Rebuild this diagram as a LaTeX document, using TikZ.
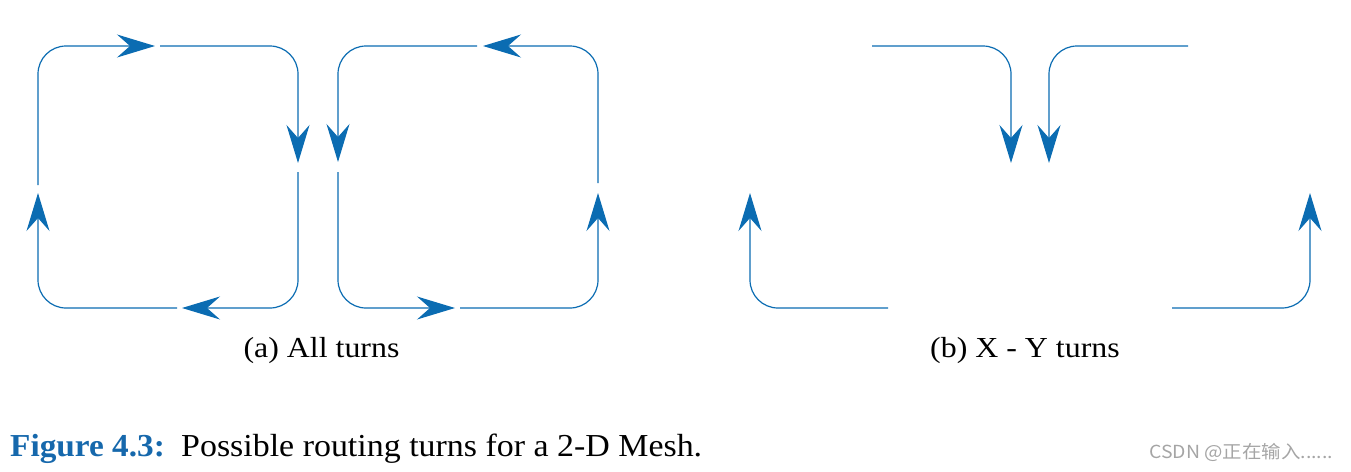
\documentclass[tikz,border=0pt]{standalone}
\usepackage{fontspec}
\setmainfont{Liberation Serif}
\newfontfamily\cjkfont{Noto Sans CJK SC}
\usetikzlibrary{arrows.meta}
\definecolor{routeblue}{RGB}{11,108,178}
\definecolor{figblue}{RGB}{22,104,172}
\definecolor{wmgray}{RGB}{165,165,165}
\tikzset{
  turn/.style={draw=routeblue, line width=1.2pt, rounded corners=28pt,
    -{Stealth[length=38pt,width=23pt,inset=13pt,fill=routeblue]}},
  sublabel/.style={inner sep=0pt, anchor=base, font=\fontsize{29}{34}\selectfont, xscale=1.1},
}
\begin{document}
\begin{tikzpicture}[x=1pt,y=-1pt]
\useasboundingbox (0,0) rectangle (1351,471);
% panel (a) left square, clockwise
\coordinate (a1s1) at (38,185);  \coordinate (a1e1) at (155,46);
\coordinate (a1s2) at (160,46);  \coordinate (a1e2) at (298,163);
\coordinate (a1s3) at (298,172); \coordinate (a1e3) at (182,308);
\coordinate (a1s4) at (177,308); \coordinate (a1e4) at (38,193);
\draw[turn] (a1s1) |- (a1e1);
\draw[turn] (a1s2) -| (a1e2);
\draw[turn] (a1s3) |- (a1e3);
\draw[turn] (a1s4) -| (a1e4);
% panel (a) right square, counter-clockwise
\coordinate (a2s1) at (598,183); \coordinate (a2e1) at (483,46);
\coordinate (a2s2) at (477,46);  \coordinate (a2e2) at (338,162);
\coordinate (a2s3) at (338,172); \coordinate (a2e3) at (455,308);
\coordinate (a2s4) at (460,308); \coordinate (a2e4) at (598,193);
\draw[turn] (a2s1) |- (a2e1);
\draw[turn] (a2s2) -| (a2e2);
\draw[turn] (a2s3) |- (a2e3);
\draw[turn] (a2s4) -| (a2e4);
% panel (b)
\coordinate (bs1) at (872,46);   \coordinate (be1) at (1011,163);
\coordinate (bs2) at (1188,46);  \coordinate (be2) at (1049,163);
\coordinate (bs3) at (888,308);  \coordinate (be3) at (750,193);
\coordinate (bs4) at (1172,308); \coordinate (be4) at (1310,193);
\draw[turn] (bs1) -| (be1);
\draw[turn] (bs2) -| (be2);
\draw[turn] (bs3) -| (be3);
\draw[turn] (bs4) -| (be4);
% labels
\node[sublabel] (la) at (321.5,357) {(a) All turns};
\node[sublabel] (lb) at (1025,357) {(b) X - Y turns};
% caption
\node[inner sep=0pt, anchor=base west, font=\fontsize{32}{38}\selectfont\bfseries, text=figblue, xscale=1.04] (fig) at (10,456) {Figure 4.3:};
\node[inner sep=0pt, anchor=base west, font=\fontsize{32}{38}\selectfont, xscale=1.06] (cap) at (181,456) {Possible routing turns for a 2-D Mesh.};
\node[inner sep=0pt, anchor=base west, font=\cjkfont\fontsize{18}{21}\selectfont, text=wmgray, xscale=1.08] (wm) at (1149,458) {CSDN @正在输入......};
\end{tikzpicture}
\end{document}
